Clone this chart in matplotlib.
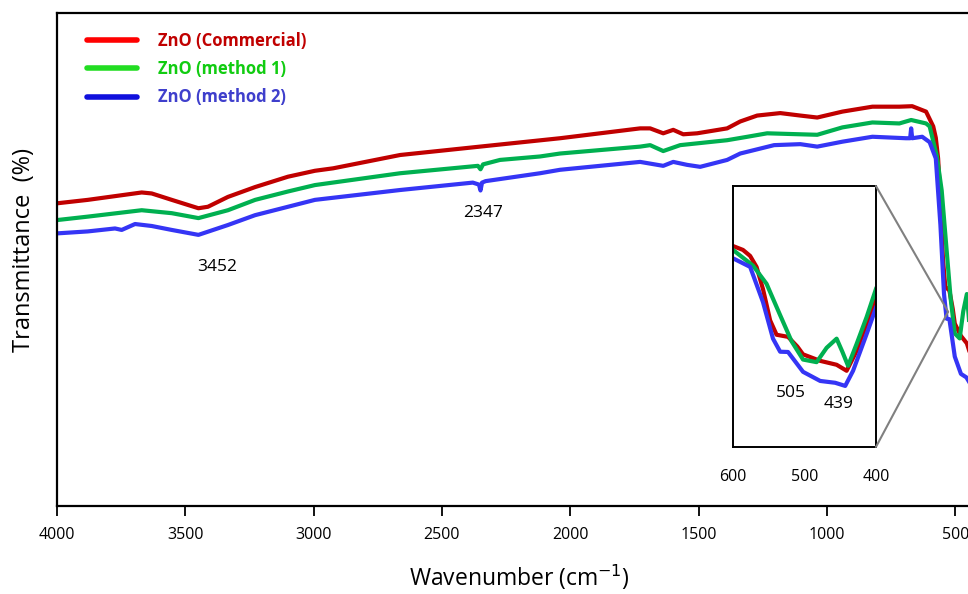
import matplotlib.pyplot as plt
from matplotlib.lines import Line2D
from matplotlib.patches import ConnectionPatch

plt.rcParams['font.family'] = ['Open Sans', 'DejaVu Sans']

# ZnO (Commercial)
wn_red = [4000, 3880, 3670, 3631, 3553, 3449, 3412, 3334, 3228, 3100, 2995, 2924,
          2663, 2352, 2040, 1728, 1689, 1638, 1599, 1560, 1506, 1389, 1338, 1272,
          1182, 1104, 1038, 940, 823, 718, 668, 614, 600, 586, 576, 567, 558, 548,
          539, 523, 510, 502, 478, 455, 441, 427, 413, 400]
t_red = [61.4, 62.1, 63.6, 63.4, 62.1, 60.4, 60.7, 62.7, 64.7, 66.8, 68.0, 68.5,
         71.2, 72.9, 74.6, 76.6, 76.6, 75.6, 76.3, 75.4, 75.6, 76.6, 78.0, 79.2,
         79.7, 79.2, 78.8, 80.0, 81.0, 81.0, 81.1, 80.0, 78.5, 77.0, 74.7, 70.5, 62.0, 50.0,
         44.5, 43.7, 40.0, 37.0, 34.5, 33.0, 30.7, 38.3, 48.7, 58.0]

# ZnO (method 1)
wn_green = [4000, 3880, 3670, 3553, 3449, 3334, 3228, 3100, 2995, 2663, 2360, 2350,
            2340, 2274, 2118, 2040, 1728, 1689, 1638, 1572, 1389, 1310, 1233, 1104,
            1038, 940, 823, 718, 672, 614, 600, 572, 553, 534, 518, 502, 483, 469,
            455, 447, 439, 427, 413, 400]
t_green = [58.0, 58.7, 60.0, 59.4, 58.4, 60.0, 62.1, 63.8, 65.1, 67.5, 69.0, 68.3,
           69.3, 70.2, 70.9, 71.5, 72.9, 73.2, 72.0, 73.2, 74.2, 74.9, 75.6, 75.4,
           75.3, 76.8, 77.8, 77.6, 78.3, 77.6, 77.0, 71.0, 64.0, 52.0, 42.0, 35.0, 34.0, 39.5,
           43.0, 38.0, 32.6, 41.0, 51.3, 62.0]

# ZnO (method 2)
wn_blue = [4000, 3880, 3774, 3748, 3696, 3631, 3553, 3449, 3334, 3228, 3100, 2995,
           2663, 2380, 2356, 2350, 2344, 2330, 2118, 2040, 1728, 1638, 1599, 1545,
           1494, 1389, 1338, 1206, 1104, 1038, 940, 823, 692, 676, 672, 668, 629,
           600, 576, 558, 544, 534, 523, 502, 478, 457, 443, 432, 413, 400]
t_blue = [55.3, 55.7, 56.3, 56.0, 57.2, 56.8, 56.0, 55.0, 57.0, 59.0, 60.7, 62.1,
          64.1, 65.6, 65.2, 64.0, 65.6, 65.9, 67.5, 68.2, 69.8, 69.0, 69.8, 69.2,
          68.8, 70.2, 71.5, 73.2, 73.4, 72.9, 73.9, 74.9, 74.6, 74.6, 76.6, 74.6, 74.9,
          73.8, 70.5, 57.0, 43.0, 38.0, 37.9, 30.3, 26.8, 26.1, 24.9, 30.7, 44.8, 54.8]

series = [
    (wn_red, t_red, '#C00000', '#FF0000', '#C00000', 'ZnO (Commercial)'),
    (wn_green, t_green, '#00B050', '#22DD22', '#11CC11', 'ZnO (method 1)'),
    (wn_blue, t_blue, '#3535F5', '#1010DD', '#3F3FCC', 'ZnO (method 2)'),
]

xticks = [4000, 3500, 3000, 2500, 2000, 1500, 1000, 500]
inset_ticks = [600, 500, 400]

fig = plt.figure(figsize=(9.68, 5.94), dpi=100)
ax = fig.add_axes([0.0589, 0.1481, 0.9545, 0.8300])

for wn, t, c, _, _, _ in series:
    ax.plot(wn, t, color=c, lw=3.0, solid_joinstyle='round')

ax.set_xlim(4000, 400)
ax.set_ylim(0, 100)
ax.set_xticks(xticks)
ax.set_yticks([])
ax.tick_params(axis='x', direction='out', length=7, width=1.3, labelsize=11.5, pad=8)
for s in ax.spines.values():
    s.set_linewidth(1.6)
ax.set_xlabel('Wavenumber (cm$^{-1}$)', fontsize=16.5, labelpad=14)
ax.set_ylabel('Transmittance  (%)', fontsize=17)
ax.yaxis.set_label_coords(-0.023, 0.52)

ax.text(3375, 48.5, '3452', ha='center', va='center', fontsize=12.5)
ax.text(2340, 59.5, '2347', ha='center', va='center', fontsize=12.5)

handles = [Line2D([], [], color=lc, lw=4, solid_capstyle='round') for _, _, _, lc, _, _ in series]
labels = [lab for *_, lab in series]
leg = ax.legend(handles, labels, loc='upper left', bbox_to_anchor=(0.032, 0.962),
                frameon=False, borderpad=0, borderaxespad=0, handlelength=3.0,
                handletextpad=1.3, labelspacing=0.62,
                prop={'weight': 'bold', 'size': 12})
for txt, (*_, tc, _) in zip(leg.get_texts(), series):
    txt.set_color(tc)

# inset 600-400
axi = fig.add_axes([0.7572, 0.2475, 0.1477, 0.4394])
for wn, t, c, _, _, _ in series:
    axi.plot(wn, t, color=c, lw=3.0, solid_joinstyle='round')
axi.set_xlim(600, 400)
axi.set_ylim(1.5, 101.5)
axi.set_xticks(inset_ticks)
axi.set_yticks([])
axi.tick_params(axis='x', length=0, labelsize=11.5, pad=16)
for s in axi.spines.values():
    s.set_linewidth(1.4)
axi.text(519, 22.0, '505', ha='center', va='center', fontsize=12.5)
axi.text(452, 18.0, '439', ha='center', va='center', fontsize=12.5)

for yf in (1, 0):
    con = ConnectionPatch(xyA=(1, yf), coordsA=axi.transAxes, xyB=(528, 39.4),
                          coordsB=ax.transData, color='#808080', lw=1.5)
    fig.add_artist(con)

fig.savefig('out.png', dpi=100)
